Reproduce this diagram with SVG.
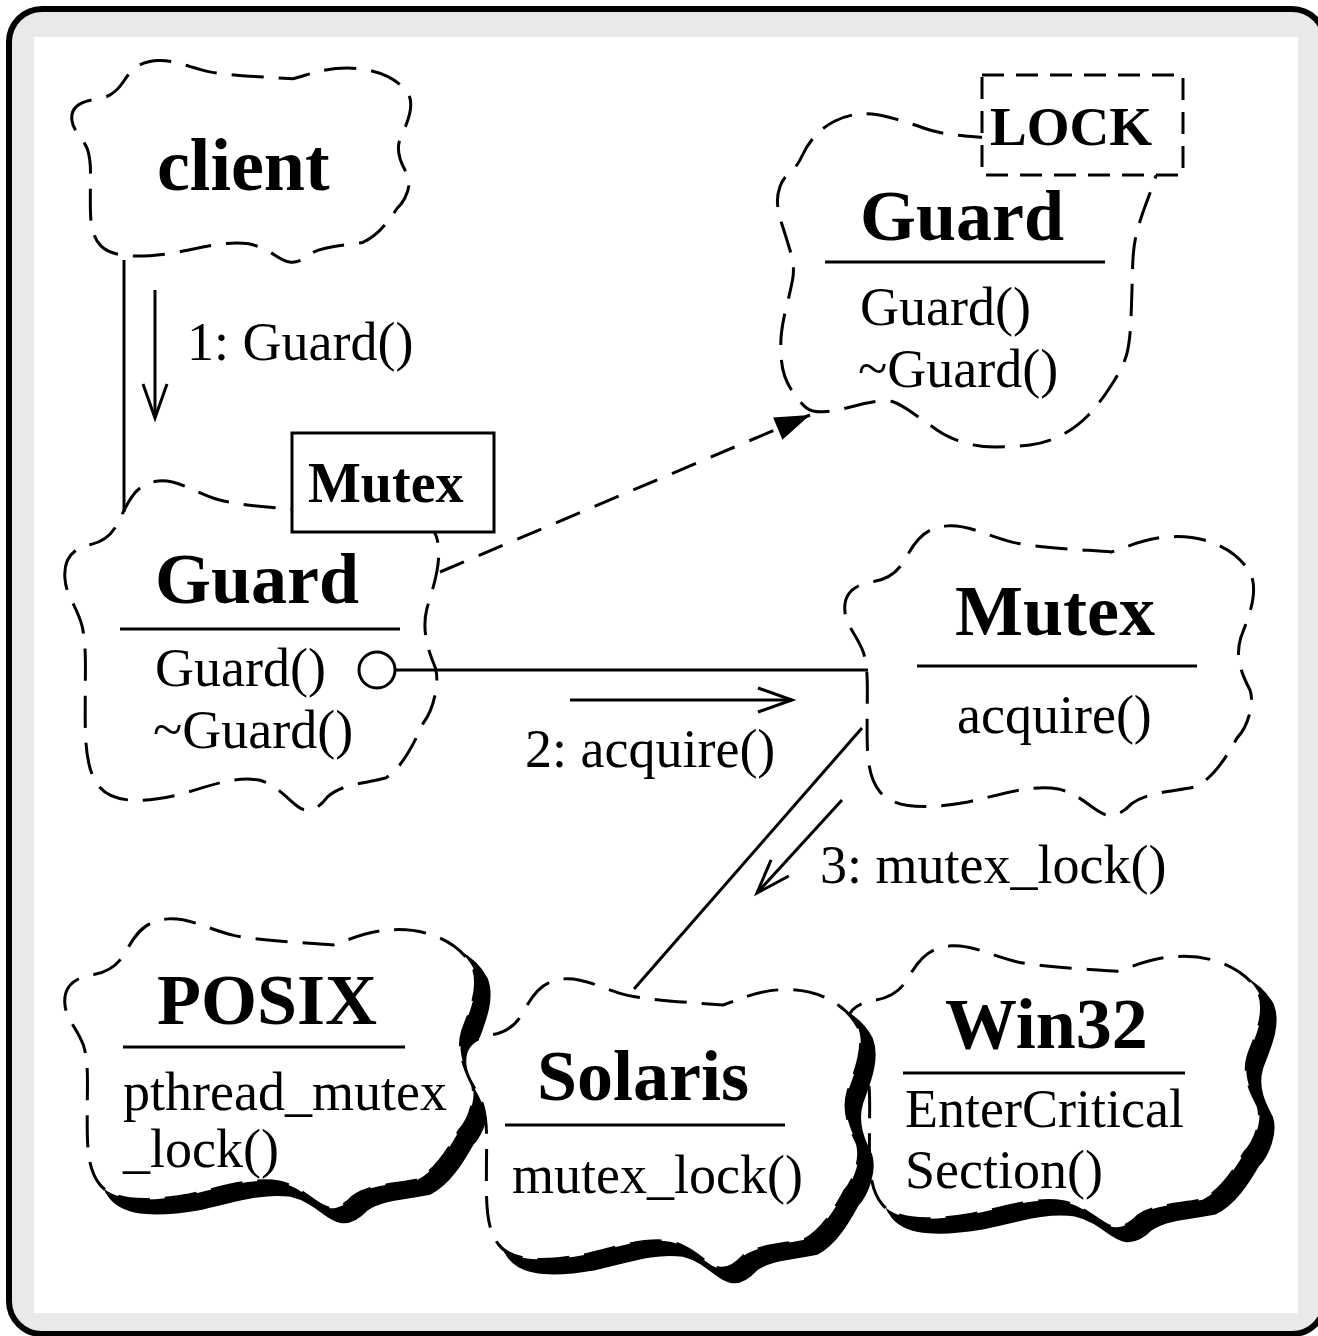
<svg xmlns="http://www.w3.org/2000/svg" xmlns:xlink="http://www.w3.org/1999/xlink" width="1318" height="1336" viewBox="0 0 1318 1336">
<style>
.cl{fill:#fff;stroke:#000;stroke-width:3;stroke-dasharray:32 15}
.sh{fill:#000;stroke:#000;stroke-width:6}
.ttl{font-family:"Liberation Serif","Times New Roman",serif;font-weight:bold;font-size:72px;fill:#000}
.txt{font-family:"Liberation Serif","Times New Roman",serif;font-size:54px;fill:#000}
.ln{stroke:#000;stroke-width:3;fill:none}
.dln{stroke:#000;stroke-width:3;fill:none;stroke-dasharray:26 16}
</style>
<defs>
<path id="cloud" vector-effect="non-scaling-stroke" d="M0,30 C-0.5,24 2,20.5 7,19.5 C11,18.5 13,16 15,11 C17,6 19,1 25,0.3 C30,-0.3 35,4 41,6 C48,8 58,8.5 65,9.3 C70,7 74,4 81,4 C89,4 96,9 99,17 C101,24 98,33 96.5,39 C95,46 97,52 98.8,57 C100,62 98,70 95.6,73.5 C93,80 90,87 85.5,90.3 C80,92 74,92 70,96 C68,99 66,100.5 64,100 C61,99.5 58,93 52,91 C45,89.5 38,93 30,95.5 C20,98 12,98 8.5,92 C5,86 5.4,76 5.4,65 C5.4,58 5.8,50 4.5,44 C3,38 0.3,35 0,30 Z"/>
<marker id="openArrow" markerUnits="userSpaceOnUse" orient="auto" overflow="visible" markerWidth="1" markerHeight="1" refX="0" refY="0">
<path d="M-34,-12 L0,0 L-34,12" fill="none" stroke="#000" stroke-width="3"/>
</marker>
<marker id="filledArrow" markerUnits="userSpaceOnUse" orient="auto" overflow="visible" markerWidth="1" markerHeight="1" refX="0" refY="0">
<path d="M-35,-12 L0,0 L-35,12 Z" fill="#000"/>
</marker>
</defs>

<g id="frame">
<rect x="9" y="9" width="1316" height="1325" rx="33" fill="#e9e9e9" stroke="#000" stroke-width="6"/>
<rect x="34" y="37" width="1264" height="1276" fill="#fff"/>
</g>

<g id="client">
<use href="#cloud" class="cl" transform="translate(72,60) scale(3.4,2.02)"/>
<text class="ttl" x="157" y="190" style="font-size:74px">client</text>
</g>

<g id="guard-lock">
<path class="cl" d="M990,138 L965,136 Q940,134 923.5,128 Q907,122 890,117.5 Q873,113 860,114 Q847,115 835,121 Q823,127 815,136 Q807,145 802,156 Q797,167 790,172.5 Q783,178 780,186.5 Q777,195 777.5,203.5 Q778,212 782.5,226 Q787,240 791,253.5 Q795,267 792.5,280 Q790,293 786.5,306.5 Q783,320 781.5,332.5 Q780,345 781.5,361 Q783,377 791.5,390 Q800,403 806.5,408 Q813,413 826.5,411.5 Q840,410 852.5,406.5 Q865,403 876,401.5 Q887,400 893.5,402 Q900,404 913.5,413.5 Q927,423 937,430 Q947,437 962,442 Q977,447 995,447 Q1013,447 1030,445 Q1047,443 1062,435 Q1077,427 1088.5,415 Q1100,403 1111.5,385 Q1123,367 1126.5,355 Q1130,343 1131,318 Q1132,293 1132.5,270 Q1133,247 1136.5,233.5 Q1140,220 1145,206.5 Q1150,193 1154,181.5 L1158,170 Z"/>
<rect x="982" y="75" width="201" height="100" fill="#fff" stroke="#000" stroke-width="3" stroke-dasharray="22 12"/>
<text class="ttl" x="990" y="145" style="font-size:55px">LOCK</text>
<text class="ttl" x="860" y="240">Guard</text>
<line class="ln" x1="825" y1="262" x2="1105" y2="262"/>
<text class="txt" x="860" y="325">Guard()</text>
<text class="txt" x="858" y="387">~Guard()</text>
</g>

<g id="guard-mutex">
<use href="#cloud" class="cl" transform="translate(65,480) scale(3.75,3.3)"/>
<rect x="292" y="433" width="202" height="99" fill="#fff" stroke="#000" stroke-width="3"/>
<text class="ttl" x="308" y="502" style="font-size:56px">Mutex</text>
<text class="ttl" x="155" y="603">Guard</text>
<line class="ln" x1="120" y1="629" x2="400" y2="629"/>
<text class="txt" x="155" y="686">Guard()</text>
<text class="txt" x="153" y="748">~Guard()</text>
</g>

<g id="mutex">
<use href="#cloud" class="cl" transform="translate(845,525) scale(4.1,2.9)"/>
<text class="ttl" x="955" y="635">Mutex</text>
<line class="ln" x1="917" y1="666" x2="1197" y2="666"/>
<text class="txt" x="957" y="733">acquire()</text>
</g>

<g id="posix">
<use href="#cloud" class="sh" transform="translate(77,930) scale(4.12,2.9)"/>
<use href="#cloud" class="cl" transform="translate(65,918) scale(4.12,2.9)"/>
<text class="ttl" x="157" y="1024">POSIX</text>
<line class="ln" x1="123" y1="1047" x2="405" y2="1047"/>
<text class="txt" x="123" y="1110">pthread_mutex</text>
<text class="txt" x="123" y="1167">_lock()</text>
</g>

<g id="win32">
<use href="#cloud" class="sh" transform="translate(859,957) scale(4.16,2.82)"/>
<use href="#cloud" class="cl" transform="translate(847,945) scale(4.16,2.82)"/>
<text class="ttl" x="945" y="1048">Win32</text>
<line class="ln" x1="903" y1="1073" x2="1185" y2="1073"/>
<text class="txt" x="905" y="1127">EnterCritical</text>
<text class="txt" x="905" y="1188">Section()</text>
</g>

<g id="solaris">
<use href="#cloud" class="sh" transform="translate(477,990) scale(3.97,2.9)"/>
<use href="#cloud" class="cl" transform="translate(465,978) scale(3.97,2.9)"/>
<text class="ttl" x="537" y="1100">Solaris</text>
<line class="ln" x1="505" y1="1125" x2="785" y2="1125"/>
<text class="txt" x="512" y="1193">mutex_lock()</text>
</g>

<g id="connectors">
<line class="ln" x1="124" y1="260" x2="124" y2="512"/>
<line class="ln" x1="155" y1="290" x2="155" y2="418" marker-end="url(#openArrow)"/>
<text class="txt" x="187" y="360">1: Guard()</text>
<line class="dln" x1="440" y1="572" x2="810" y2="415" marker-end="url(#filledArrow)"/>
<circle cx="377" cy="670" r="18" fill="#fff" stroke="#000" stroke-width="3"/>
<line class="ln" x1="395" y1="670" x2="868" y2="670"/>
<line class="ln" x1="570" y1="700" x2="792" y2="700" marker-end="url(#openArrow)"/>
<text class="txt" x="525" y="767">2: acquire()</text>
<line class="ln" x1="862" y1="728" x2="634" y2="989"/>
<line class="ln" x1="842" y1="800" x2="757" y2="893" marker-end="url(#openArrow)"/>
<text class="txt" x="820" y="883">3: mutex_lock()</text>
</g>
</svg>
